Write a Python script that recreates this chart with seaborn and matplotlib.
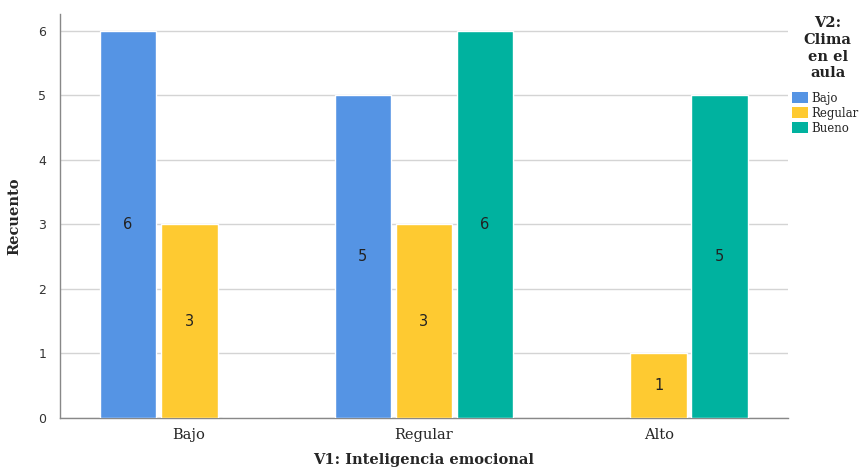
import pandas as pd
import matplotlib.pyplot as plt
import seaborn as sns
from matplotlib.patches import Patch

# -------- DATA --------
v1_levels = ["Bajo", "Regular", "Alto"]
v2_levels = ["Bajo", "Regular", "Bueno"]
count_bajo = [6, 5, 0]
count_regular = [3, 3, 1]
count_bueno = [0, 6, 5]
colors = ["#5594E4", "#FECA31", "#00B29F"]

df = pd.DataFrame({
    "V1": v1_levels * 3,
    "V2": [v2_levels[0]] * 3 + [v2_levels[1]] * 3 + [v2_levels[2]] * 3,
    "Recuento": count_bajo + count_regular + count_bueno,
})

sns.set_style("white")
plt.rcParams["font.family"] = ["DejaVu Serif"]

fig = plt.figure(figsize=(8.63, 4.72), dpi=100)
ax = fig.add_axes([0.0695, 0.1144, 0.8435, 0.8556])

sns.barplot(data=df, x="V1", y="Recuento", hue="V2", order=v1_levels,
            hue_order=v2_levels, palette=colors, width=0.78, gap=0.07,
            saturation=1, ax=ax, legend=False, zorder=3)

# value labels in the middle of each bar
for container in ax.containers:
    for bar in container:
        h = bar.get_height()
        if h > 0:
            ax.text(bar.get_x() + bar.get_width() / 2, h / 2, f"{int(h)}",
                    ha="center", va="center", fontsize=10.5,
                    family="DejaVu Sans", color="#222222", zorder=4)

ax.set_xlim(-0.55, 2.55)
ax.set_ylim(0, 6.26)
ax.set_yticks(range(0, 7))
ax.yaxis.grid(True, color="#d4d4d4", linewidth=1, zorder=0)
ax.tick_params(axis="y", length=0, labelsize=9, pad=10, labelcolor="#333333")
ax.tick_params(axis="x", length=0, labelsize=10.5, pad=7)
for lbl in ax.get_yticklabels():
    lbl.set_family("DejaVu Sans")
for s in ["top", "right"]:
    ax.spines[s].set_visible(False)
for s in ["left", "bottom"]:
    ax.spines[s].set_color("#888888")
    ax.spines[s].set_linewidth(1)

ax.set_xlabel("V1: Inteligencia emocional", fontsize=10.5, fontweight="bold", labelpad=8)
ax.set_ylabel("Recuento", fontsize=10.5, fontweight="bold", labelpad=12)

# legend title (centered, SPSS style) and entries
fig.text(0.959, 0.966, "V2:\nClima\nen el\naula", ha="center", va="top",
         fontsize=10.5, fontweight="bold", multialignment="center",
         linespacing=1.25, color="#222222")
handles = [Patch(facecolor=c, edgecolor="none") for c in colors]
fig.legend(handles, v2_levels, loc="upper left", bbox_to_anchor=(0.9175, 0.806),
           frameon=False, fontsize=8.5, handlelength=1.35, handleheight=1.1,
           handletextpad=0.3, labelspacing=0.17, borderpad=0, borderaxespad=0)

plt.savefig("out.png", dpi=100)
